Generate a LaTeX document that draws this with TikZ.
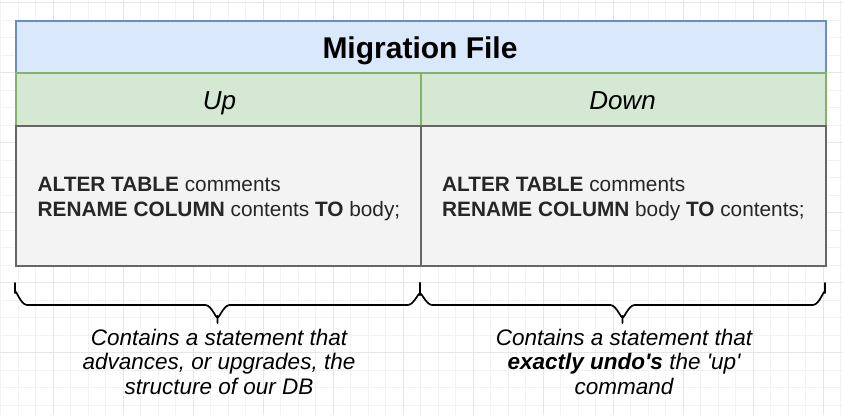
\documentclass[tikz,border=0pt]{standalone}
\usepackage{fontspec}
\setmainfont{Liberation Sans}[Ligatures=TeXOff]
\definecolor{bluefill}{HTML}{DAE8FC}
\definecolor{blueline}{HTML}{6C8EBF}
\definecolor{greenfill}{HTML}{D5E8D4}
\definecolor{greenline}{HTML}{82B366}
\definecolor{grayfill}{HTML}{F3F3F3}
\definecolor{grayline}{HTML}{666666}
\definecolor{gridminor}{HTML}{F2F2F2}
\definecolor{gridmajor}{HTML}{E6E6E6}
\tikzset{
  cell/.style={draw, line width=1.5pt, inner sep=0pt, anchor=north west},
  titlecell/.style={cell, fill=bluefill, draw=blueline},
  headcell/.style={cell, fill=greenfill, draw=greenline},
  bodycell/.style={cell, fill=grayfill, draw=grayline},
  titletext/.style={anchor=base, inner sep=0pt, font=\fontsize{30}{36}\selectfont\bfseries},
  headtext/.style={anchor=base, inner sep=0pt, font=\fontsize{26}{30}\selectfont\itshape},
  codetext/.style={anchor=base west, inner sep=0pt, text=black!85, font=\fontsize{20.8}{25}\selectfont},
  notetext/.style={anchor=base, inner sep=0pt, font=\fontsize{22.5}{24.5}\selectfont\itshape},
  bracepath/.style={draw=black, line width=1.7pt, line cap=round, line join=round},
  gridlineminor/.style={draw=gridminor, line width=0.8pt},
  gridlinemajor/.style={draw=gridmajor, line width=0.8pt}
}
\begin{document}
\begin{tikzpicture}[x=1pt, y=-1pt]
\useasboundingbox (0,0) rectangle (843,415);
\fill[white] (0,0) rectangle (843,415);
% background grid
\foreach \i in {0,...,48} {
  \draw[gridlineminor] ({0.5+17.5*\i},0) -- ({0.5+17.5*\i},415);
}
\foreach \i in {0,...,23} {
  \draw[gridlineminor] (0,{2.5+17.5*\i}) -- (843,{2.5+17.5*\i});
}
\foreach \i in {0,...,11} {
  \draw[gridlinemajor] ({53+70*\i},0) -- ({53+70*\i},415);
}
\foreach \i in {0,...,5} {
  \draw[gridlinemajor] (0,{2.5+70*\i}) -- (843,{2.5+70*\i});
}
% cells
\node[titlecell, minimum width=810pt, minimum height=52pt] (title) at (15,20) {};
\node[headcell, minimum width=405pt, minimum height=53pt] (up) at (15,72) {};
\node[headcell, minimum width=405pt, minimum height=53pt] (down) at (420,72) {};
\node[bodycell, minimum width=405pt, minimum height=140pt] (upbody) at (15,125) {};
\node[bodycell, minimum width=405pt, minimum height=140pt] (downbody) at (420,125) {};
% texts
\node[titletext] (titlelabel) at (420,58.3) {Migration File};
\node[headtext] (uplabel) at (219.5,109.3) {Up};
\node[headtext] (downlabel) at (622.5,109.3) {Down};
\node[codetext] (upcode1) at (37.5,191.7) {\textbf{ALTER TABLE} comments};
\node[codetext] (upcode2) at (37.5,216.7) {\textbf{RENAME COLUMN} contents \textbf{TO} body;};
\node[codetext] (downcode1) at (442,191.7) {\textbf{ALTER TABLE} comments};
\node[codetext] (downcode2) at (442,216.7) {\textbf{RENAME COLUMN} body \textbf{TO} contents;};
% braces
\coordinate (lb1) at (15,283);
\coordinate (lbtip) at (217.5,323);
\coordinate (lbjoin) at (217.5,316);
\coordinate (mid) at (420,283);
\coordinate (rbtip) at (622.5,323);
\coordinate (rbjoin) at (622.5,316);
\coordinate (rb2) at (825,283);
\draw[bracepath] (lb1) -- (15,293) to[out=90,in=180] (27,305) -- (205.5,305)
  to[out=0,in=-90] (lbjoin) -- (lbtip);
\draw[bracepath] (lbjoin) to[out=-90,in=180] (229.5,305) -- (408,305)
  to[out=0,in=90] (420,295) -- (mid);
\draw[bracepath] (mid) -- (420,295) to[out=90,in=180] (432,305) -- (610.5,305)
  to[out=0,in=-90] (rbjoin) -- (rbtip);
\draw[bracepath] (rbjoin) to[out=-90,in=180] (634.5,305) -- (813,305)
  to[out=0,in=90] (825,293) -- (rb2);
% notes
\node[notetext] (note1a) at (219,345) {Contains a statement that};
\node[notetext] (note1b) at (219,369.5) {advances, or upgrades, the};
\node[notetext] (note1c) at (219,394) {structure of our DB};
\node[notetext] (note2a) at (624,345) {Contains a statement that};
\node[notetext] (note2b) at (624,369.5) {\textbf{exactly undo's} the 'up'};
\node[notetext] (note2c) at (624,394) {command};
\end{tikzpicture}
\end{document}
